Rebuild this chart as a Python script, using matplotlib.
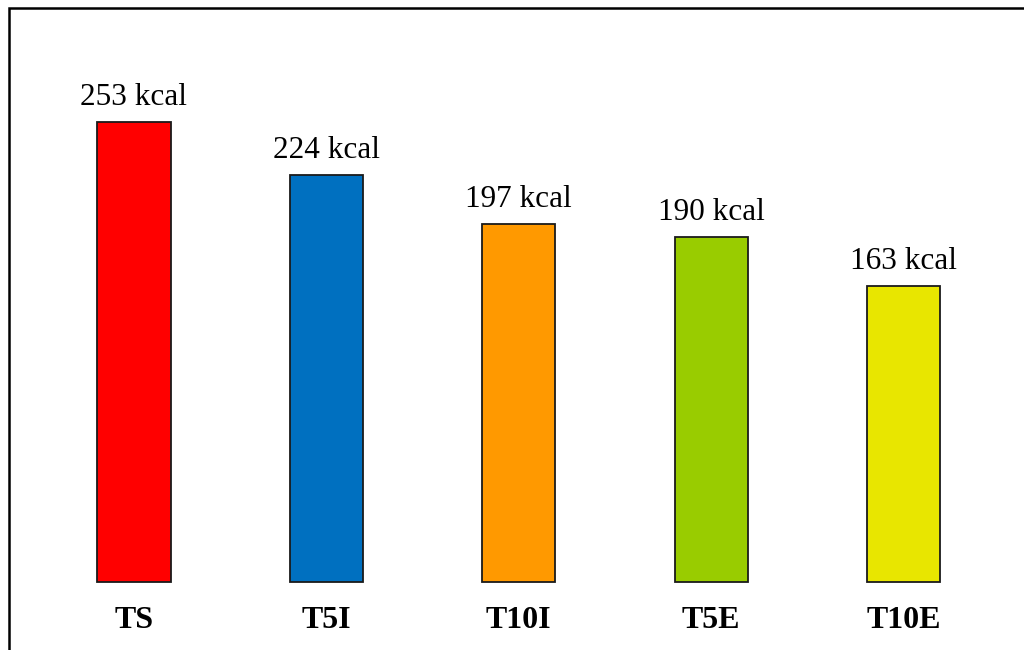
import matplotlib
matplotlib.use("Agg")
import matplotlib.pyplot as plt
from matplotlib.lines import Line2D

categories = ["TS", "T5I", "T10I", "T5E", "T10E"]
energy_kcal = [253, 224, 197, 190, 163]
bar_colors = ["#FF0000", "#0070C0", "#FF9900", "#99CC00", "#E8E600"]

W, H = 1024, 650
fig = plt.figure(figsize=(W / 100, H / 100), dpi=100)
fig.patch.set_facecolor("white")

# plotting area: baseline of the bars sits 68 px above the bottom edge
ax = fig.add_axes([0, 68 / H, 1, (H - 68) / H])
px_per_unit = 460 / 253.0
ax.set_ylim(0, (H - 68) / px_per_unit)
step = 192.4
ax.set_xlim(-134 / step, (W - 134) / step)

xs = list(range(len(categories)))
bars = ax.bar(xs, energy_kcal, width=0.38, color=bar_colors,
              edgecolor="#1a1a1a", linewidth=1.3, zorder=2)
for b in bars:
    b.set_clip_on(False)

for x, v in zip(xs, energy_kcal):
    ax.annotate(f"{v} kcal", xy=(x, v), xytext=(0, 12.2),
                textcoords="offset points", ha="center", va="baseline",
                fontsize=22.5, family="Liberation Serif", color="black")

ax.set_xticks(xs)
ax.set_xticklabels(categories, fontsize=23, family="Liberation Serif",
                   fontweight="bold")
ax.tick_params(axis="x", length=0, pad=17)
ax.set_yticks([])
for s in ax.spines.values():
    s.set_visible(False)
ax.patch.set_visible(False)

# outer frame (left and top edges)
fx = 8.5 / W
fy = 1 - 8.0 / H
fig.add_artist(Line2D([fx, fx, 1.01], [-0.01, fy, fy],
                      transform=fig.transFigure, color="black",
                      linewidth=1.8, solid_joinstyle="miter"))

fig.savefig("out.png", dpi=100)
